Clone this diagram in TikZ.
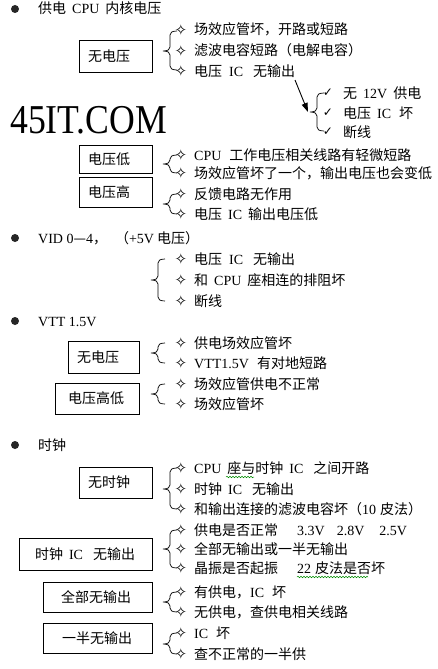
\documentclass[tikz,border=0pt]{standalone}
\usepackage{fontspec}
\setmainfont{Noto Sans CJK SC}
\newfontfamily\lat{Liberation Serif}
\newfontfamily\dejavu{DejaVu Sans}
\usetikzlibrary{arrows.meta,decorations.pathmorphing}
\newcommand\ws{\hspace{6pt}}
\newcommand\La[1]{{\lat #1}}
\newcommand\cbrace[4]{\draw[brc] (#1+7,#2) .. controls (#1+2,#2) and (#1,#2+1.5) .. (#1,#2+4) -- (#1,#3-4) .. controls (#1,#3-1.5) and (#1-2,#3) .. (#1-7,#3) .. controls (#1-2,#3) and (#1,#3+1.5) .. (#1,#3+4) -- (#1,#4-4) .. controls (#1,#4-1.5) and (#1+2,#4) .. (#1+7,#4);}
\newcommand\itm[3]{\node[starn] (s#1) at (181,#2) {✧}; \node[txt] (t#1) at (194,#2) {#3};}
\newcommand\hdr[3]{\node[bul] (b#1) at (15,#2) {}; \node[txt] (h#1) at (38,#2) {#3};}
\begin{document}
\begin{tikzpicture}[x=1pt,y=-1pt,
  font=\fontsize{14}{16}\selectfont,
  txt/.style={anchor=west, inner sep=0pt, text height=12pt, text depth=2pt},
  starn/.style={inner sep=0pt, font=\dejavu\fontsize{15}{15}\selectfont},
  chk/.style={inner sep=0pt, font=\dejavu\fontsize{12}{12}\selectfont},
  box/.style={draw, line width=0.9pt, align=left, inner ysep=0pt},
  bul/.style={circle, fill=black!85, inner sep=0pt, minimum size=8pt},
  brc/.style={line width=0.7pt},
  arr/.style={line width=0.9pt, -{Triangle[length=9pt,width=6pt]}},
  wavy/.style={draw=green!55!black, decorate, decoration={snake, amplitude=0.8pt, segment length=3pt}, line width=0.5pt}]
\useasboundingbox[fill=white] (0,0) rectangle (438,669);

% ---------- Section 1 ----------
\hdr{1}{9}{供电\ws\La{CPU}\ws 内核电压}
\node[box, minimum height=32pt, text width=55pt, inner xsep=9pt] (bx1) at (115.5,56) {无电压};
\cbrace{170}{31}{51}{70}
\itm{11}{30}{场效应管坏，开路或短路}
\itm{12}{51}{滤波电容短路（电解电容）}
\itm{13}{71}{电压\hspace{7pt}\La{IC}\hspace{10pt}无输出}

\coordinate (a0) at (295,80);
\coordinate (b2tip) at (308,112);
\draw[arr] (a0) -- (b2tip);
\cbrace{317}{93}{112}{131}
\node[chk] (c1) at (328,93) {✓};
\node[txt] (u1) at (343,93) {无\ws\La{12V}\ws 供电};
\node[chk] (c2) at (328,113) {✓};
\node[txt] (u2) at (343,113) {电压\ws\La{IC}\hspace{8pt}坏};
\node[chk] (c3) at (328,132) {✓};
\node[txt] (u3) at (343,132) {断线};

\node[anchor=base west, inner sep=0pt] (logo) at (10,133) {\scalebox{0.87}[1]{\lat\fontsize{41}{41}\selectfont 45IT.COM}};

\node[box, minimum height=28pt, text width=55pt, inner xsep=9pt] (bx2) at (115.5,159) {电压低};
\cbrace{170}{155}{164}{173}
\itm{21}{155}{\La{CPU}\hspace{8pt}工作电压相关线路有轻微短路}
\itm{22}{173}{场效应管坏了一个，输出电压也会变低}

\node[box, minimum height=30pt, text width=55pt, inner xsep=9pt] (bx3) at (115.5,192) {电压高};
\cbrace{170}{194}{204}{214}
\itm{31}{194}{反馈电路无作用}
\itm{32}{214}{电压\ws\La{IC}\ws 输出电压低}

% ---------- Section 2 ----------
\hdr{2}{238}{\La{VID 0}—\La{4}，\hspace{8pt}（\La{+5V}\hspace{3pt}电压）}
\cbrace{158}{259}{280}{301}
\itm{41}{259}{电压\hspace{7pt}\La{IC}\hspace{10pt}无输出}
\itm{42}{280}{和\ws\La{CPU}\ws 座相连的排阻坏}
\itm{43}{301}{断线}

% ---------- Section 3 ----------
\hdr{3}{321}{\La{VTT 1.5V}}
\node[box, minimum height=32pt, text width=53pt, inner xsep=9pt] (bx4) at (103.5,357) {无电压};
\cbrace{158}{343}{353}{363}
\itm{51}{343}{供电场效应管坏}
\itm{52}{363}{\La{VTT1.5V}\hspace{8pt}有对地短路}
\node[box, minimum height=31pt, text width=58pt, inner xsep=13pt] (bx5) at (97,398.5) {电压高低};
\cbrace{158}{384}{394}{404}
\itm{53}{384}{场效应管供电不正常}
\itm{54}{404}{场效应管坏}

% ---------- Section 4 ----------
\hdr{4}{445}{时钟}
\node[box, minimum height=31pt, text width=55pt, inner xsep=9pt] (bx6) at (115.5,482.5) {无时钟};
\cbrace{170}{468}{489}{509}
\itm{61}{468}{\La{CPU}\ws 座与时钟\ws\La{IC}\hspace{10pt}之间开路}
\itm{62}{489}{时钟\ws\La{IC}\hspace{10pt}无输出}
\itm{63}{509}{和输出连接的滤波电容坏（\La{10}\hspace{4pt}皮法）}

\node[box, minimum height=32pt, text width=101pt, inner xsep=16pt] (bx7) at (85.5,554) {时钟\ws\La{IC}\hspace{10pt}无输出};
\cbrace{170}{530}{549}{568}
\itm{71}{530}{供电是否正常\hspace{19pt}\La{3.3V}\hspace{12pt}\La{2.8V}\hspace{15pt}\La{2.5V}}
\itm{72}{549}{全部无输出或一半无输出}
\itm{73}{568}{晶振是否起振\hspace{19pt}\La{22}\hspace{4pt}皮法是否坏}

\node[box, minimum height=30pt, text width=73pt, inner xsep=18pt] (bx8) at (97.5,597) {全部无输出};
\cbrace{170}{592}{602}{612}
\itm{81}{592}{有供电，\La{IC}\hspace{8pt}坏}
\itm{82}{612}{无供电，查供电相关线路}

\node[box, minimum height=30pt, text width=71pt, inner xsep=19pt] (bx9) at (97.5,638) {一半无输出};
\cbrace{170}{633}{644}{654}
\itm{91}{633}{\La{IC}\hspace{8pt}坏}
\itm{92}{654}{查不正常的一半供}

% grammar-check underlines
\draw[wavy] (226,477) -- (254,477);
\draw[wavy] (297,577) -- (368,577);
\end{tikzpicture}
\end{document}
